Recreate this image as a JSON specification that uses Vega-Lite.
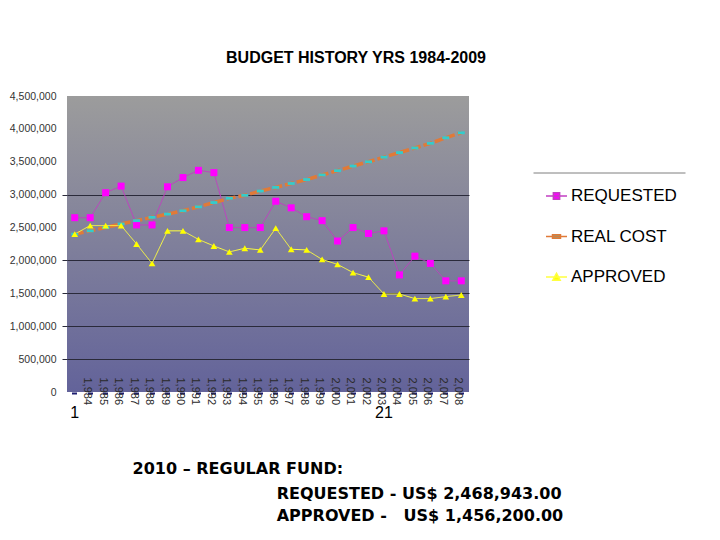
{
  "$schema": "https://vega.github.io/schema/vega-lite/v6.json",
  "width": 402,
  "height": 296,
  "autosize": {"type": "none"},
  "padding": {"left": 67, "top": 96, "right": 251, "bottom": 148},
  "background": "white",
  "title": {
    "text": "BUDGET HISTORY YRS 1984-2009",
    "font": "Liberation Sans",
    "fontSize": 16,
    "fontWeight": "bold",
    "color": "#000000",
    "anchor": "middle",
    "frame": "group",
    "dx": 88,
    "offset": 12,
    "baseline": "alphabetic"
  },
  "config": {
    "view": {
      "stroke": null,
      "fill": {
        "gradient": "linear",
        "x1": 0, "y1": 0, "x2": 0, "y2": 1,
        "stops": [
          {"offset": 0, "color": "#9c9c9c"},
          {"offset": 1, "color": "#63639a"}
        ]
      }
    },
    "axisY": {
      "title": null,
      "tickCount": 10,
      "format": ",d",
      "labelOverlap": false,
      "labelFont": "Liberation Sans",
      "labelFontSize": 10.5,
      "labelColor": "#333333",
      "labelPadding": 6,
      "tickSize": 5,
      "domain": false,
      "grid": true,
      "gridWidth": 1,
      "gridColor": "#2a2a3a",
      "tickColor": "#2a2a3a"
    },
    "axisX": {
      "title": null,
      "labelAngle": 90,
      "labelFont": "Liberation Sans",
      "labelFontSize": 11,
      "labelColor": "#2a2a2a",
      "labelPadding": -17,
      "labelOffset": -3,
      "labelOverlap": false,
      "ticks": true,
      "tickSize": 2,
      "tickWidth": 5,
      "tickColor": "#1e1e70",
      "domain": false,
      "grid": false
    }
  },
  "layer": [
    {
      "data": {
        "values": [
          {"year": " ", "REQUESTED": 2650000, "REAL COST": 2400000, "APPROVED": 2400000},
          {"year": "1,984", "REQUESTED": 2650000, "REAL COST": 2450000, "APPROVED": 2530000},
          {"year": "1,985", "REQUESTED": 3030000, "REAL COST": 2500000, "APPROVED": 2530000},
          {"year": "1,986", "REQUESTED": 3130000, "REAL COST": 2555000, "APPROVED": 2530000},
          {"year": "1,987", "REQUESTED": 2540000, "REAL COST": 2605000, "APPROVED": 2250000},
          {"year": "1,988", "REQUESTED": 2540000, "REAL COST": 2655000, "APPROVED": 1955000},
          {"year": "1,989", "REQUESTED": 3120000, "REAL COST": 2705000, "APPROVED": 2450000},
          {"year": "1,990", "REQUESTED": 3260000, "REAL COST": 2755000, "APPROVED": 2450000},
          {"year": "1,991", "REQUESTED": 3370000, "REAL COST": 2815000, "APPROVED": 2320000},
          {"year": "1,992", "REQUESTED": 3335000, "REAL COST": 2880000, "APPROVED": 2220000},
          {"year": "1,993", "REQUESTED": 2500000, "REAL COST": 2945000, "APPROVED": 2130000},
          {"year": "1,994", "REQUESTED": 2500000, "REAL COST": 2990000, "APPROVED": 2185000},
          {"year": "1,995", "REQUESTED": 2500000, "REAL COST": 3055000, "APPROVED": 2160000},
          {"year": "1,996", "REQUESTED": 2900000, "REAL COST": 3110000, "APPROVED": 2490000},
          {"year": "1,997", "REQUESTED": 2800000, "REAL COST": 3170000, "APPROVED": 2170000},
          {"year": "1,998", "REQUESTED": 2665000, "REAL COST": 3230000, "APPROVED": 2160000},
          {"year": "1,999", "REQUESTED": 2605000, "REAL COST": 3300000, "APPROVED": 2015000},
          {"year": "2,000", "REQUESTED": 2295000, "REAL COST": 3365000, "APPROVED": 1940000},
          {"year": "2,001", "REQUESTED": 2500000, "REAL COST": 3435000, "APPROVED": 1815000},
          {"year": "2,002", "REQUESTED": 2410000, "REAL COST": 3500000, "APPROVED": 1745000},
          {"year": "2,003", "REQUESTED": 2450000, "REAL COST": 3570000, "APPROVED": 1490000},
          {"year": "2,004", "REQUESTED": 1780000, "REAL COST": 3640000, "APPROVED": 1490000},
          {"year": "2,005", "REQUESTED": 2065000, "REAL COST": 3710000, "APPROVED": 1420000},
          {"year": "2,006", "REQUESTED": 1955000, "REAL COST": 3780000, "APPROVED": 1420000},
          {"year": "2,007", "REQUESTED": 1690000, "REAL COST": 3865000, "APPROVED": 1450000},
          {"year": "2,008", "REQUESTED": 1690000, "REAL COST": 3940000, "APPROVED": 1475000}
        ]
      },
      "transform": [{"fold": ["REQUESTED", "REAL COST", "APPROVED"], "as": ["series", "value"]}],
      "layer": [
        {
          "mark": {"type": "line", "strokeJoin": "round"},
          "encoding": {
            "x": {"field": "year", "type": "ordinal", "title": null},
            "y": {
              "field": "value", "type": "quantitative", "title": null,
              "scale": {"domain": [0, 4500000], "nice": false},
              "axis": {
                "tickCount": 10,
                "values": [0, 500000, 1000000, 1500000, 2000000, 2500000, 3000000, 3500000, 4000000, 4500000],
                "gridColor": {"condition": {"test": "datum.value > 0 && datum.value <= 3000000 && datum.value != 2500000", "value": "#2a2a3a"}, "value": "rgba(0,0,0,0)"},
                "tickColor": {"condition": {"test": "datum.value > 0 && datum.value <= 3000000 && datum.value != 2500000", "value": "#2a2a3a"}, "value": "rgba(0,0,0,0)"}
              }
            },
            "color": {
              "field": "series", "type": "nominal",
              "scale": {"domain": ["REQUESTED", "REAL COST", "APPROVED"], "range": ["#c23fc2", "#e07a38", "#ffff40"]},
              "legend": {
                "title": null,
                "orient": "none",
                "legendX": 466,
                "legendY": 76.5,
                "padding": 12,
                "labelFont": "Liberation Sans",
                "labelFontSize": 17,
                "labelColor": "#000000",
                "labelOffset": 3,
                "symbolSize": 441,
                "rowPadding": 20.5,
                "symbolStrokeWidth": 1.5,
                "symbolOpacity": 1,
                "encode": {
                  "legend": {
                    "update": {
                      "stroke": {"value": "#7f7f7f"},
                      "strokeWidth": {"value": 1},
                      "strokeDash": {"value": [152, 2000]}
                    }
                  },
                  "symbols": {
                    "update": {
                      "shape": {"signal": "datum.value === 'REQUESTED' ? 'M-1,0H1M-0.3,-0.3H0.3V0.3H-0.3Z' : datum.value === 'REAL COST' ? 'M-1,0H1M-0.38,-0.16H0.38V0.16H-0.38Z' : 'M-1,0H1M0,-0.35L0.35,0.3H-0.35Z'"},
                      "stroke": {"signal": "datum.value === 'REQUESTED' ? '#c23fc2' : datum.value === 'REAL COST' ? '#e07a38' : '#f0f040'"},
                      "fill": {"signal": "datum.value === 'REQUESTED' ? '#ff00ff' : datum.value === 'REAL COST' ? '#33cccc' : '#ffff00'"},
                      "strokeWidth": {"value": 1.5},
                      "strokeDash": {"value": [1, 0]},
                      "opacity": {"value": 1}
                    }
                  }
                }
              }
            },
            "strokeWidth": {"condition": {"test": "datum.series === 'REAL COST'", "value": 3.5}, "value": 1},
            "strokeDash": {"condition": {"test": "datum.series === 'REAL COST'", "value": [9, 3]}, "value": [1, 0]}
          }
        },
        {
          "transform": [{"filter": {"field": "series", "equal": "REQUESTED"}}],
          "mark": {"type": "point", "filled": true, "opacity": 1, "size": 49, "shape": "square", "color": "#ff00ff"},
          "encoding": {
            "x": {"field": "year", "type": "ordinal", "title": null},
            "y": {"field": "value", "type": "quantitative", "title": null, "scale": {"domain": [0, 4500000], "nice": false}}
          }
        },
        {
          "transform": [{"filter": {"field": "series", "equal": "REAL COST"}}],
          "mark": {"type": "point", "filled": true, "opacity": 1, "size": 49, "shape": "M-1,-0.4H1V0.4H-1Z", "color": "#33cccc"},
          "encoding": {
            "x": {"field": "year", "type": "ordinal", "title": null},
            "y": {"field": "value", "type": "quantitative", "title": null, "scale": {"domain": [0, 4500000], "nice": false}}
          }
        },
        {
          "transform": [{"filter": {"field": "series", "equal": "APPROVED"}}],
          "mark": {"type": "point", "filled": true, "opacity": 1, "size": 45, "shape": "triangle-up", "color": "#ffff00"},
          "encoding": {
            "x": {"field": "year", "type": "ordinal", "title": null},
            "y": {"field": "value", "type": "quantitative", "title": null, "scale": {"domain": [0, 4500000], "nice": false}}
          }
        }
      ]
    },
    {
      "data": {"values": [{"pos": " ", "num": "1"}, {"pos": "2,003", "num": "21"}]},
      "mark": {"type": "text", "font": "Liberation Sans", "fontSize": 16, "baseline": "alphabetic", "align": "center", "color": "#000000"},
      "encoding": {
        "x": {"field": "pos", "type": "ordinal", "title": null},
        "y": {"datum": -400000, "type": "quantitative", "title": null, "scale": {"domain": [0, 4500000], "nice": false}},
        "text": {"field": "num"}
      }
    },
    {
      "data": {"values": [{"note": "2010 – REGULAR FUND:"}]},
      "mark": {"type": "text", "font": "DejaVu Sans", "fontWeight": "bold", "fontSize": 16, "baseline": "alphabetic", "align": "left", "dx": -4, "color": "#000000"},
      "encoding": {
        "x": {"datum": "1,987", "type": "ordinal", "title": null},
        "y": {"datum": -1246600, "type": "quantitative", "title": null, "scale": {"domain": [0, 4500000], "nice": false}},
        "text": {"field": "note"}
      }
    },
    {
      "mark": {"type": "rule", "color": "#000000", "strokeWidth": 2, "xOffset": -4, "x2Offset": -3},
      "encoding": {
        "x": {"datum": "1,987", "type": "ordinal", "title": null},
        "x2": {"datum": "2,001"},
        "y": {"datum": -1288000, "type": "quantitative", "title": null, "scale": {"domain": [0, 4500000], "nice": false}}
      }
    },
    {
      "data": {"values": [{"note": "REQUESTED - US$ 2,468,943.00\nAPPROVED -\u00a0\u00a0 US$ 1,456,200.00"}]},
      "mark": {"type": "text", "font": "DejaVu Sans", "fontWeight": "bold", "fontSize": 16, "baseline": "alphabetic", "align": "left", "dx": 1, "lineBreak": "\n", "lineHeight": 21.4, "color": "#000000"},
      "encoding": {
        "x": {"datum": "1,996", "type": "ordinal", "title": null},
        "y": {"datum": -1631200, "type": "quantitative", "title": null, "scale": {"domain": [0, 4500000], "nice": false}},
        "text": {"field": "note"}
      }
    }
  ]
}
